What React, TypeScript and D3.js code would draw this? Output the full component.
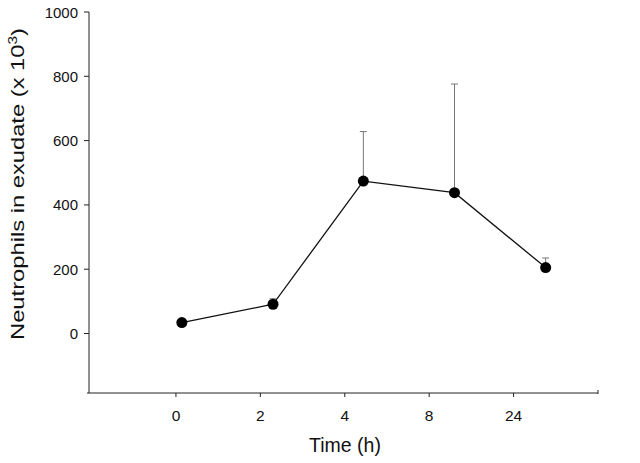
import React from "react";
import * as d3 from "d3";

// Category axis (time points) and the plotted series
const categories = ["0", "2", "4", "8", "24"];
const tickPositions = [0, 1, 2, 3, 4];
// horizontal position of each data point on the category scale
const pointPositions = [0.07, 1.15, 2.22, 3.3, 4.38];
const means = [34, 91, 474, 438, 205];
const upperErrors = [34, 108, 628, 776, 235];
const yTicks = [0, 200, 400, 600, 800, 1000];

const W = 640;
const H = 463;
const FONT = "'Liberation Sans', Arial, Helvetica, sans-serif";

export default function App() {
  const x = d3.scaleLinear().domain([-1.03, 5.0]).range([89, 598]);
  const y = d3.scaleLinear().domain([-185, 1000]).range([393, 12]);

  const pts = means.map((m, i) => ({ px: x(pointPositions[i]), py: y(m), up: y(upperErrors[i]) }));
  const line = d3
    .line<{ px: number; py: number }>()
    .x((d) => d.px)
    .y((d) => d.py);

  const x0 = x.range()[0];
  const x1 = x.range()[1];
  const yBottom = y.range()[0];
  const yTop = y.range()[1];

  return (
    <svg
      width={W}
      height={H}
      viewBox={`0 0 ${W} ${H}`}
      style={{ position: "absolute", left: 0, top: 0, display: "block", background: "#fff" }}
    >
      <rect x={0} y={0} width={W} height={H} fill="#fff" />
      {/* y axis */}
      <line x1={x0} x2={x0} y1={yTop} y2={yBottom} stroke="#222" strokeWidth={1} />
      {yTicks.map((t) => (
        <g key={t}>
          <line x1={x0 - 5} x2={x0} y1={y(t)} y2={y(t)} stroke="#222" strokeWidth={1} />
          <text
            x={x0 - 11}
            y={y(t)}
            textAnchor="end"
            dominantBaseline="central"
            fontFamily={FONT}
            fontSize={15}
            fill="#111"
          >
            {t}
          </text>
        </g>
      ))}
      {/* x axis */}
      <line x1={x0 - 2} x2={x1} y1={yBottom} y2={yBottom} stroke="#222" strokeWidth={1} />
      <line x1={x1} x2={x1} y1={yBottom - 3} y2={yBottom + 1} stroke="#222" strokeWidth={1} />
      {tickPositions.map((p, i) => (
        <g key={categories[i]}>
          <line x1={x(p)} x2={x(p)} y1={yBottom} y2={yBottom + 4} stroke="#222" strokeWidth={1} />
          <text
            x={x(p)}
            y={yBottom + 28}
            textAnchor="middle"
            fontFamily={FONT}
            fontSize={15.5}
            fill="#111"
          >
            {categories[i]}
          </text>
        </g>
      ))}
      {/* axis titles */}
      <text x={345} y={452} textAnchor="middle" fontFamily={FONT} fontSize={19.5} fill="#111">
        Time (h)
      </text>
      <text
        transform={`translate(24, 184) rotate(-90)`}
        textAnchor="middle"
        fontFamily={FONT}
        fontSize={18.5}
        fill="#111"
        textLength={312}
        lengthAdjust="spacingAndGlyphs"
      >
        Neutrophils in exudate (x 10<tspan dy={-7} fontSize={12}>3</tspan>
        <tspan dy={7}>)</tspan>
      </text>
      {/* error bars */}
      {pts.map((d, i) =>
        upperErrors[i] > means[i] ? (
          <g key={"e" + i}>
            <line x1={d.px} x2={d.px} y1={d.py} y2={d.up} stroke="#777" strokeWidth={1} />
            <line x1={d.px - 3.5} x2={d.px + 3.5} y1={d.up} y2={d.up} stroke="#777" strokeWidth={1} />
          </g>
        ) : null
      )}
      {/* line */}
      <path d={line(pts) || ""} fill="none" stroke="#111" strokeWidth={1.3} />
      {pts.map((d, i) => (
        <circle key={"c" + i} cx={d.px} cy={d.py} r={5.5} fill="#000" />
      ))}
    </svg>
  );
}
